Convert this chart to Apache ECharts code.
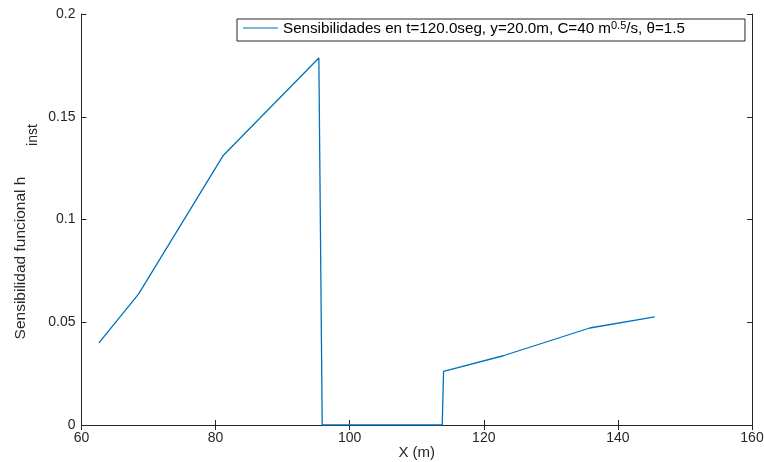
<!DOCTYPE html>
<html>
<head>
<meta charset="utf-8">
<script src="https://cdn.jsdelivr.net/npm/echarts@6/dist/echarts.min.js"></script>
<style>
html,body{margin:0;padding:0;background:#fff;}
#chart{width:764px;height:462px;}
</style>
</head>
<body>
<div id="chart"></div>
<script>
// Data
var xValues = [62.6, 68.5, 81.1, 95.4, 95.9, 113.8, 114.0, 122.9, 135.8, 145.5];
var yValues = [0.040, 0.0637, 0.131, 0.1786, 0, 0, 0.0261, 0.0337, 0.0472, 0.0526];
var seriesName = 'Sensibilidades en t=120.0seg, y=20.0m, C=40 m0.5/s, θ=1.5';
var xLabel = 'X (m)';
var yLabelMain = 'Sensibilidad funcional h';
var yLabelSub = 'inst';

var points = xValues.map(function (x, i) { return [x, yValues[i]]; });

var font = 'Arial, "Liberation Sans", Helvetica, sans-serif';
var axisColor = '#262626';
var chart = echarts.init(document.getElementById('chart'), null, {renderer: 'canvas'});

var commonAxisLine = {lineStyle: {color: axisColor, width: 1}};
var option = {
  backgroundColor: '#ffffff',
  animation: false,
  grid: {left: 81.5, right: 12, top: 14, bottom: 37, containLabel: false, outerBoundsMode: 'none'},
  legend: {
    left: 237, top: 19,
    itemWidth: 35, itemHeight: 2,
    itemGap: 0,
    padding: [1, 60, 1, 6],
    borderColor: '#262626', borderWidth: 1,
    backgroundColor: '#fff',
    icon: 'path://M0,0 L35,0 L35,1 L0,1 Z',
    data: [seriesName],
    formatter: function () {
      return '{a|Sensibilidades en t=120.0seg, y=20.0m, C=40 m}{s|0.5}{a|/s, θ=1.5}';
    },
    textStyle: {
      fontFamily: font, fontSize: 15.2, color: '#000',
      rich: {
        a: {fontFamily: font, fontSize: 15.2, color: '#000', verticalAlign: 'bottom', lineHeight: 16},
        s: {fontFamily: font, fontSize: 11, color: '#000', verticalAlign: 'top', lineHeight: 11, padding: [0, 0, 9, 0]}
      }
    }
  },
  xAxis: [{
    type: 'value', min: 60, max: 160, interval: 20,
    axisLine: commonAxisLine,
    axisTick: {inside: true, length: 5, lineStyle: {color: axisColor}},
    axisLabel: {color: axisColor, fontFamily: font, fontSize: 14, margin: 6},
    splitLine: {show: false},
    name: xLabel, nameLocation: 'middle', nameGap: 20, nameMoveOverlap: false,
    nameTextStyle: {color: axisColor, fontFamily: font, fontSize: 15}
  }, {
    type: 'value', min: 60, max: 160, interval: 20, position: 'top',
    axisLine: commonAxisLine,
    axisTick: {inside: true, length: 5, lineStyle: {color: axisColor}},
    axisLabel: {show: false}, splitLine: {show: false}
  }],
  yAxis: [{
    type: 'value', min: 0, max: 0.2, interval: 0.05,
    axisLine: {show: true, lineStyle: {color: axisColor, width: 1}},
    axisTick: {show: true, inside: true, length: 5, lineStyle: {color: axisColor}},
    axisLabel: {color: axisColor, fontFamily: font, fontSize: 14, margin: 6},
    splitLine: {show: false}
  }, {
    type: 'value', min: 0, max: 0.2, interval: 0.05, position: 'right',
    axisLine: {show: true, lineStyle: {color: axisColor, width: 1}},
    axisTick: {show: true, inside: true, length: 5, lineStyle: {color: axisColor}},
    axisLabel: {show: false}, splitLine: {show: false}
  }],
  graphic: [{
    type: 'text', x: 21, y: 258, rotation: Math.PI / 2,
    style: {text: yLabelMain, fill: axisColor, font: '15.5px ' + font, textAlign: 'center', textVerticalAlign: 'middle'}
  }, {
    type: 'text', x: 33, y: 135, rotation: Math.PI / 2,
    style: {text: yLabelSub, fill: axisColor, font: '14px ' + font, textAlign: 'center', textVerticalAlign: 'middle'}
  }],
  series: [{
    name: seriesName,
    type: 'line',
    data: points,
    showSymbol: false,
    symbol: 'none',
    lineStyle: {color: '#0072BD', width: 1.3},
    itemStyle: {color: '#0072BD'}
  }]
};
chart.setOption(option);
</script>
</body>
</html>
